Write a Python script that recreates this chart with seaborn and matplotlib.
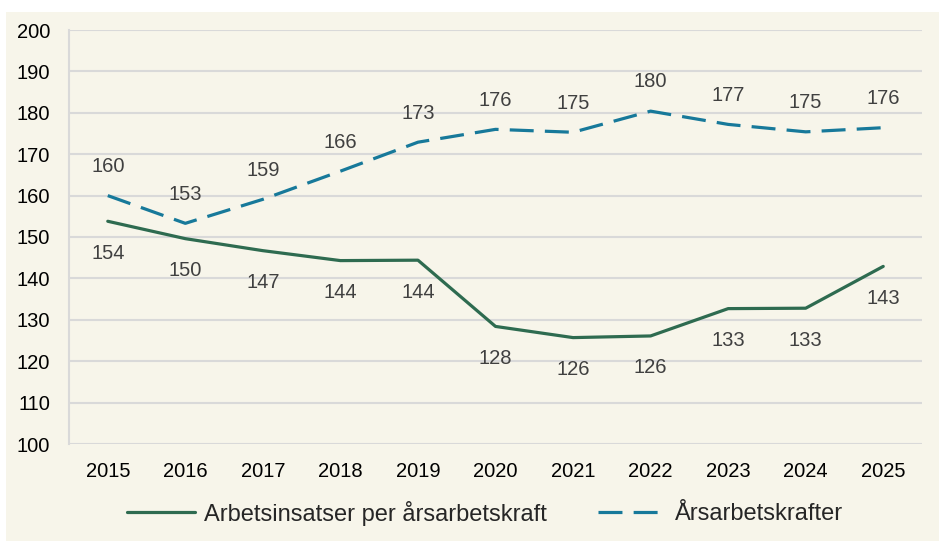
import numpy as np
import pandas as pd
import matplotlib
matplotlib.use("Agg")
import matplotlib.pyplot as plt
import seaborn as sns
from matplotlib.patches import Rectangle

# === Data ===
years = [2015, 2016, 2017, 2018, 2019, 2020, 2021, 2022, 2023, 2024, 2025]
arbetsinsatser = [153.8, 149.6, 146.7, 144.3, 144.4, 128.4, 125.7, 126.1, 132.7, 132.8, 142.9]
arsarbetskrafter = [160.0, 153.3, 159.1, 165.9, 172.9, 176.0, 175.3, 180.4, 177.2, 175.4, 176.4]

name_a = "Arbetsinsatser per årsarbetskraft"
name_b = "Årsarbetskrafter"

df = pd.DataFrame({
    "År": years * 2,
    "Värde": arbetsinsatser + arsarbetskrafter,
    "Serie": [name_a] * len(years) + [name_b] * len(years),
})

# === Style ===
bg = "#F7F5EA"
grid_col = "#D9D9D9"
green = "#2E6B50"
blue = "#17799A"

sns.set_style("white")
plt.rcParams["font.family"] = ["Liberation Sans", "DejaVu Sans"]

fig = plt.figure(figsize=(9.39, 5.41), dpi=100, facecolor="white")
fig.patches.append(Rectangle((6 / 939, 0), 1, (541 - 12) / 541,
                             transform=fig.transFigure, facecolor=bg,
                             edgecolor="none", zorder=-1))
ax = fig.add_axes([69 / 939, (541 - 444) / 541, (922 - 69) / 939, (444 - 30) / 541])
ax.set_facecolor(bg)

sns.lineplot(data=df, x="År", y="Värde", hue="Serie", style="Serie",
             palette={name_a: green, name_b: blue},
             dashes={name_a: "", name_b: (7.5, 3.5)},
             linewidth=2.3, ax=ax, legend=True)

# data labels
for x, v in zip(years, arbetsinsatser):
    ax.annotate(f"{round(v)}", (x, v), xytext=(0, -23), textcoords="offset points",
                ha="center", va="center", fontsize=14.5, color="#404040")
for x, v in zip(years, arsarbetskrafter):
    ax.annotate(f"{round(v)}", (x, v), xytext=(0, 21), textcoords="offset points",
                ha="center", va="center", fontsize=14.5, color="#404040")

# axes
ax.set_xlim(2014.5, 2025.5)
ax.set_ylim(100, 200)
ax.set_xticks(years)
ax.set_yticks(np.arange(100, 201, 10))
ax.set_xlabel("")
ax.set_ylabel("")
ax.yaxis.grid(True, color=grid_col, linewidth=1.5)
ax.set_axisbelow(True)
for s in ["top", "right", "bottom"]:
    ax.spines[s].set_visible(False)
ax.spines["left"].set_color(grid_col)
ax.spines["left"].set_linewidth(1.5)
ax.tick_params(axis="y", length=4.5, width=1.5, color=grid_col, pad=9,
               labelsize=14.5, labelcolor="black")
ax.tick_params(axis="x", length=0, pad=13, labelsize=14.5, labelcolor="black")

# legend
handles, labels = ax.get_legend_handles_labels()
ax.legend_.remove()
fig.legend(handles, labels, loc="center", bbox_to_anchor=(485 / 939, 28 / 541),
           ncol=2, frameon=False, fontsize=17, handlelength=2.9,
           handletextpad=0.35, columnspacing=2.2)

fig.savefig("out.png", dpi=100, facecolor="white")
